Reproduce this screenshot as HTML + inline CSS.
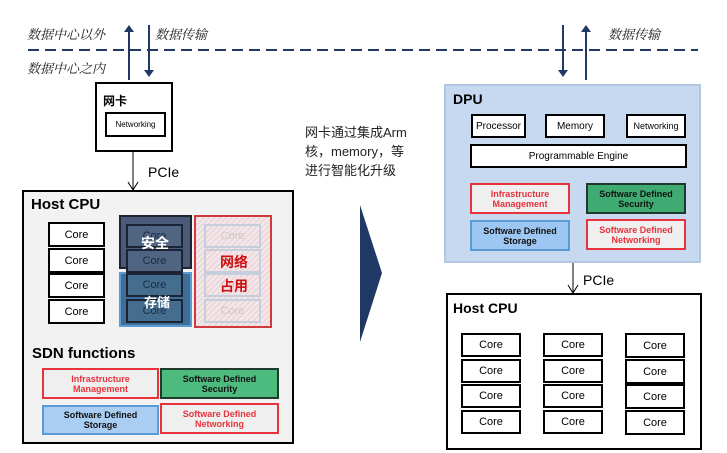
<!DOCTYPE html>
<html><head><meta charset="utf-8"><style>
body{margin:0;width:727px;height:453px;background:#fff;position:relative;overflow:hidden;font-family:"Liberation Sans","Noto Sans CJK SC",sans-serif}
.a{position:absolute;box-sizing:border-box}
.c{display:flex;align-items:center;justify-content:center;text-align:center}
.core{border:2px solid #000;background:#fff;font-size:11px;color:#000}
.it{font-style:italic;font-size:13px;color:#222;font-family:"Liberation Serif","Noto Serif CJK SC",serif}
.sb{font-size:9px;font-weight:bold;line-height:10px}
.red{border:2px solid #e8323c;background:#efefef;color:#e8323c}
.grn{border:2px solid #1f3a2c;background:#4dbb7e;color:#111}
.blu{border:2px solid #5b9bd5;background:#a9cdf3;color:#111}
.red2{border:2px solid #e8323c;background:#efefef;color:#e8323c}
.dc{border:2px solid #1a2436;background:#4f6582;color:#1c2a40;font-size:11px}
.gc{border:2px solid #c5cfdc;background:transparent;color:#c8c8c8;font-size:11px}
</style></head><body>
<svg class="a" style="left:0;top:0" width="727" height="453">
<line x1="28" y1="50" x2="698" y2="50" stroke="#1f3864" stroke-width="2" stroke-dasharray="11,6"/>
<g stroke="#1f3864" stroke-width="2" fill="#1f3864">
<line x1="129" y1="80" x2="129" y2="30"/><polygon points="124,32 134,32 129,25" stroke="none"/>
<line x1="149" y1="25" x2="149" y2="72"/><polygon points="144,70 154,70 149,77" stroke="none"/>
<line x1="563" y1="25" x2="563" y2="72"/><polygon points="558,70 568,70 563,77" stroke="none"/>
<line x1="586" y1="80" x2="586" y2="31"/><polygon points="581,32 591,32 586,25" stroke="none"/>
</g>
<g stroke="#000" stroke-width="1" fill="none">
<line x1="133" y1="151" x2="133" y2="190"/><polyline points="128,182 133,190 138,182"/>
<line x1="573" y1="262" x2="573" y2="293"/><polyline points="568,285 573,293 578,285"/>
</g>
<polygon points="360,205 382,273 360,342" fill="#1f3864"/>
</svg>
<div class="a it" style="left:27px;top:24px">数据中心以外</div>
<div class="a it" style="left:155px;top:24px">数据传输</div>
<div class="a it" style="left:27px;top:58px">数据中心之内</div>
<div class="a it" style="left:608px;top:24px">数据传输</div>

<div class="a" style="left:95px;top:82px;width:78px;height:70px;border:2px solid #000;background:#fff"></div>
<div class="a" style="left:103px;top:92px;font-size:12px;font-weight:bold">网卡</div>
<div class="a c" style="left:105px;top:112px;width:61px;height:25px;border:2px solid #000;font-size:8px">Networking</div>
<div class="a" style="left:148px;top:164px;font-size:14px">PCIe</div>

<div class="a" style="left:22px;top:190px;width:272px;height:254px;border:2px solid #000;background:#f2f2f2"></div>
<div class="a" style="left:31px;top:196px;font-size:15px;font-weight:bold">Host CPU</div>
<div class="a c core" style="left:48px;top:222px;width:57px;height:25px">Core</div>
<div class="a c core" style="left:48px;top:248px;width:57px;height:25px">Core</div>
<div class="a c core" style="left:48px;top:273px;width:57px;height:25px">Core</div>
<div class="a c core" style="left:48px;top:299px;width:57px;height:25px">Core</div>
<div class="a" style="left:119px;top:215px;width:73px;height:54px;background:#4b5a78;border:2px solid #1e2430"></div>
<div class="a" style="left:119px;top:272px;width:73px;height:55px;background:#3f6e96;border:2px solid #5b9bd5"></div>
<div class="a c dc" style="left:126px;top:224px;width:57px;height:24px">Core</div>
<div class="a c dc" style="left:126px;top:249px;width:57px;height:24px">Core</div>
<div class="a c dc" style="left:126px;top:273px;width:57px;height:24px;background:#456d8e">Core</div>
<div class="a c dc" style="left:126px;top:299px;width:57px;height:24px;background:#456d8e">Core</div>
<div class="a" style="left:141px;top:233px;color:#fff;font-weight:bold;font-size:14px">安全</div>
<div class="a" style="left:144px;top:292px;color:#fff;font-weight:bold;font-size:13px">存储</div>
<div class="a" style="left:194px;top:215px;width:78px;height:113px;border:2px solid #d03a3a;background:repeating-linear-gradient(-45deg,#f3e6e8 0 3px,#e8cfd3 3px 4px)"></div>
<div class="a c gc" style="left:204px;top:224px;width:57px;height:24px">Core</div>
<div class="a c gc" style="left:204px;top:249px;width:57px;height:24px">Core</div>
<div class="a c gc" style="left:204px;top:273px;width:57px;height:24px">Core</div>
<div class="a c gc" style="left:204px;top:299px;width:57px;height:24px">Core</div>
<div class="a" style="left:220px;top:250px;color:#d01010;font-weight:bold;font-size:14px;line-height:24px;width:30px">网络<br>占用</div>
<div class="a" style="left:32px;top:345px;font-size:15px;font-weight:bold">SDN functions</div>
<div class="a c sb red" style="left:42px;top:368px;width:117px;height:31px">Infrastructure<br>Management</div>
<div class="a c sb grn" style="left:160px;top:368px;width:119px;height:31px">Software Defined<br>Security</div>
<div class="a c sb blu" style="left:42px;top:405px;width:117px;height:30px">Software Defined<br>Storage</div>
<div class="a c sb red2" style="left:160px;top:403px;width:119px;height:31px">Software Defined<br>Networking</div>

<div class="a" style="left:305px;top:123px;font-size:13px;line-height:19px;color:#222">网卡通过集成Arm<br>核，memory，等<br>进行智能化升级</div>

<div class="a" style="left:444px;top:84px;width:257px;height:179px;background:#c6d9f1;border:2px solid #b4c7e2"></div>
<div class="a" style="left:453px;top:91px;font-size:14px;font-weight:bold">DPU</div>
<div class="a c core" style="left:471px;top:114px;width:55px;height:24px;font-size:10px">Processor</div>
<div class="a c core" style="left:545px;top:114px;width:60px;height:24px;font-size:10px">Memory</div>
<div class="a c core" style="left:626px;top:114px;width:60px;height:24px;font-size:9px">Networking</div>
<div class="a c core" style="left:470px;top:144px;width:217px;height:24px;font-size:10px">Programmable Engine</div>
<div class="a c sb red" style="left:470px;top:183px;width:100px;height:31px">Infrastructure<br>Management</div>
<div class="a c sb grn" style="left:586px;top:183px;width:100px;height:31px;background:#3fab73">Software Defined<br>Security</div>
<div class="a c sb blu" style="left:470px;top:220px;width:100px;height:31px;background:#9ec6f2">Software Defined<br>Storage</div>
<div class="a c sb red2" style="left:586px;top:219px;width:100px;height:31px">Software Defined<br>Networking</div>
<div class="a" style="left:583px;top:272px;font-size:14px">PCIe</div>

<div class="a" style="left:446px;top:293px;width:256px;height:157px;border:2px solid #000;background:#fff"></div>
<div class="a" style="left:453px;top:300px;font-size:14px;font-weight:bold">Host CPU</div>
<div class="a c core" style="left:461px;top:333px;width:60px;height:24px">Core</div>
<div class="a c core" style="left:461px;top:359px;width:60px;height:24px">Core</div>
<div class="a c core" style="left:461px;top:384px;width:60px;height:24px">Core</div>
<div class="a c core" style="left:461px;top:410px;width:60px;height:24px">Core</div>
<div class="a c core" style="left:543px;top:333px;width:60px;height:24px">Core</div>
<div class="a c core" style="left:543px;top:359px;width:60px;height:24px">Core</div>
<div class="a c core" style="left:543px;top:384px;width:60px;height:24px">Core</div>
<div class="a c core" style="left:543px;top:410px;width:60px;height:24px">Core</div>
<div class="a c core" style="left:625px;top:333px;width:60px;height:25px">Core</div>
<div class="a c core" style="left:625px;top:359px;width:60px;height:25px">Core</div>
<div class="a c core" style="left:625px;top:384px;width:60px;height:25px">Core</div>
<div class="a c core" style="left:625px;top:410px;width:60px;height:25px">Core</div>
</body></html>
